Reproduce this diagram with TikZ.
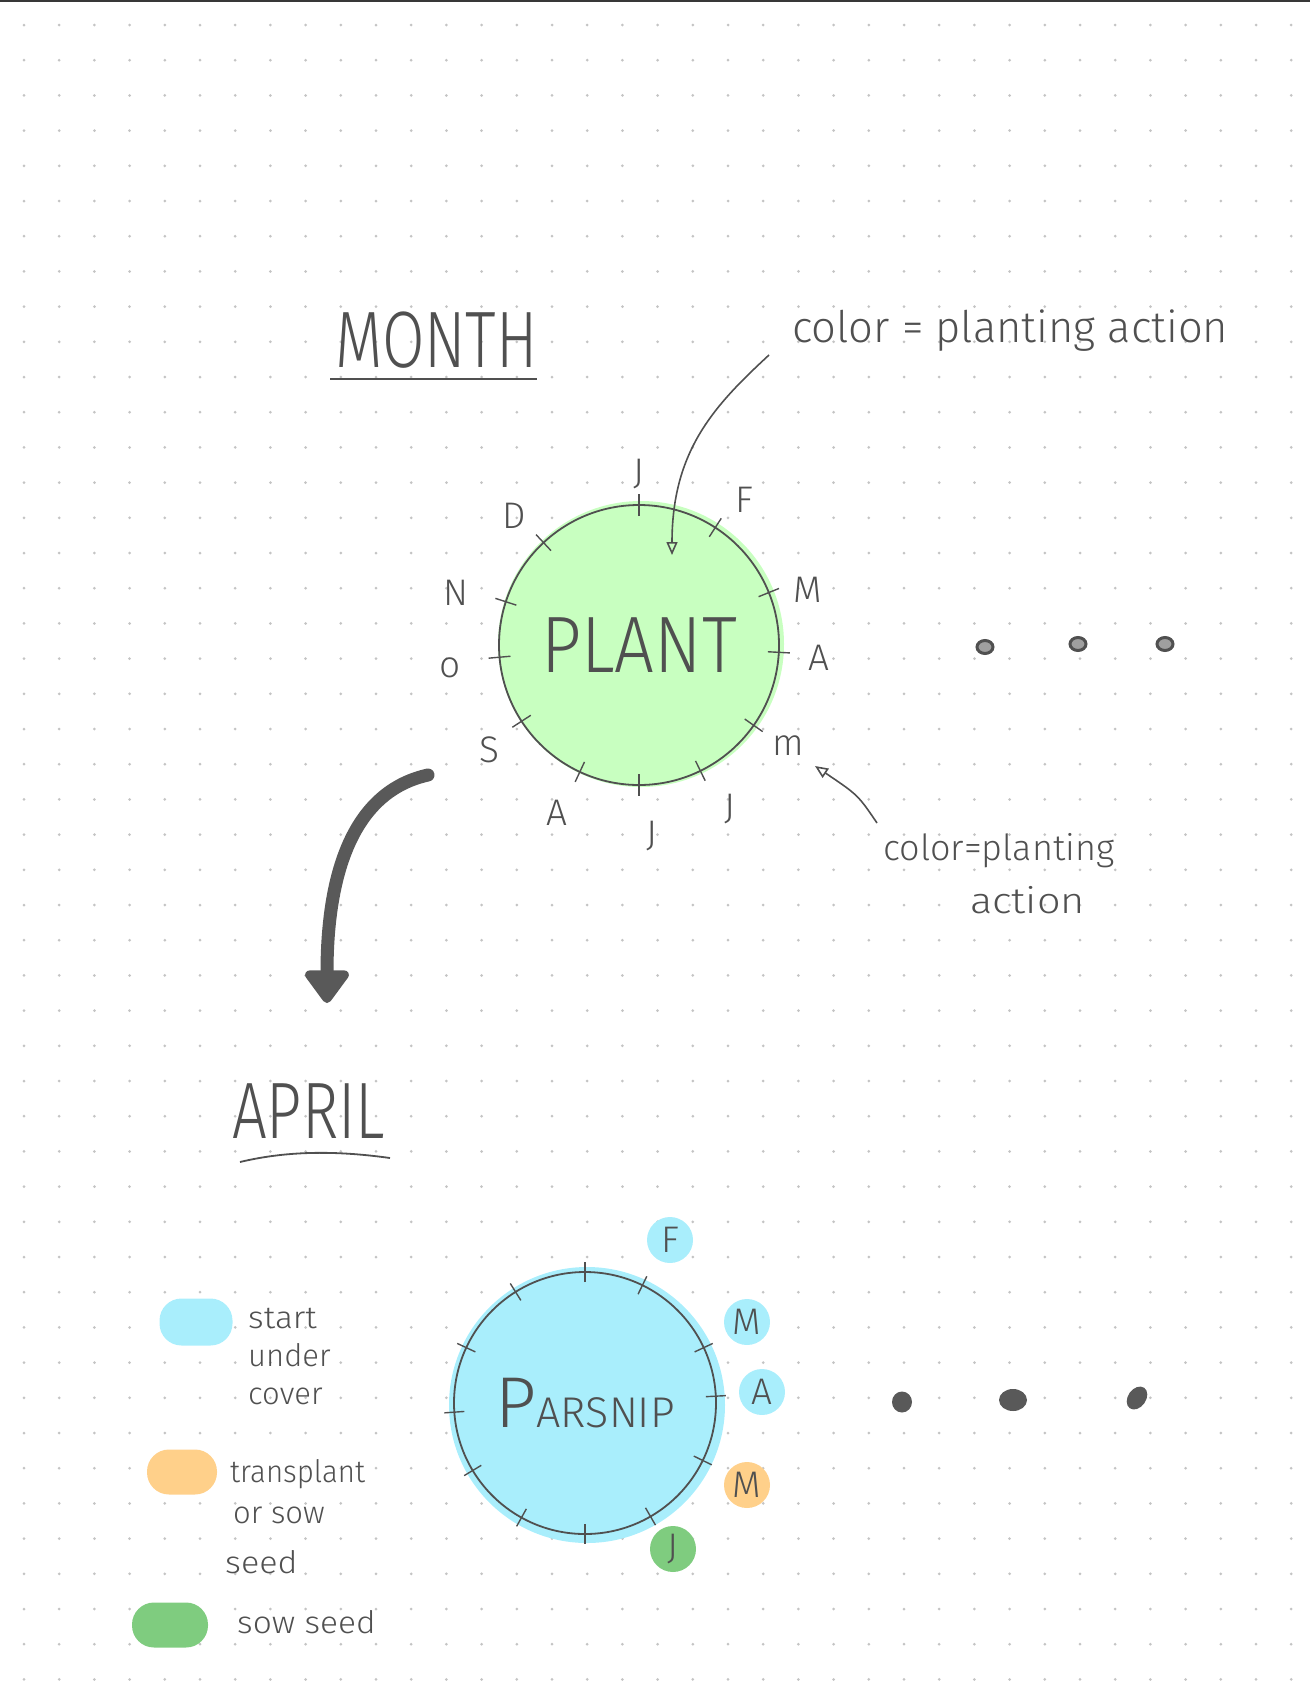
\documentclass[tikz,border=0pt]{standalone}
\usepackage{fontspec}
\setmainfont{Fira Sans Light}
\usetikzlibrary{arrows.meta}
\definecolor{ink}{HTML}{505050}
\definecolor{griddot}{HTML}{C4C4C4}
\definecolor{plantgreen}{HTML}{C8FFC0}
\definecolor{coverblue}{HTML}{A9EEFC}
\definecolor{transorange}{HTML}{FFD08A}
\definecolor{sowgreen}{HTML}{7FCC7F}
\newcommand{\headfont}{\fontsize{80}{80}\selectfont}
\newcommand{\notefont}{\fontsize{43.5}{43.5}\selectfont}
\newcommand{\smallnotefont}{\fontsize{36}{36}\selectfont}
\newcommand{\markfont}{\fontsize{37}{37}\selectfont}
\newcommand{\keyfont}{\fontsize{31}{31}\selectfont}

\tikzset{
  handtext/.style={text=ink, inner sep=0pt, anchor=base west},
  wheel/.style={circle, draw=ink, line width=1.8pt, text=ink, inner sep=0pt},
  monthtick/.style={draw=ink, line width=1.4pt},
  monthlabel/.style={text=ink, inner sep=0pt, font=\markfont},
  monthdot/.style={circle, minimum size=46pt, inner sep=0pt, text=ink, font=\fontsize{37}{37}\selectfont},
  legendblob/.style={rectangle, rounded corners=22pt, inner sep=0pt},
  thinarrow/.style={draw=ink, line width=1.6pt, -{Triangle[open,length=13pt,width=11pt]}},
  bigarrow/.style={draw=ink!95, line width=13pt, line cap=round, -{Triangle[length=36pt,width=50pt,round]}},
}

\begin{document}
\begin{tikzpicture}[x=1pt,y=1pt]
  \useasboundingbox (0,0) rectangle (1310,-1698);

  % Dot grid
  \foreach \i in {0,...,36}
    \foreach \j in {0,...,47}
      \fill[griddot] ({24+35.2*\i},{-25-35.2*\j}) circle (1.5);
  \fill[ink!70!black] (0,0) rectangle (1310,-2);

  % MONTH heading
  \node[handtext, font=\headfont, xscale=0.77] (monthtitle) at (335,-367) {MONTH};
  \draw[ink, line width=1.8pt] (330,-379) -- (537,-379);

  % PLANT wheel
  \fill[plantgreen] (641,-644) circle (143);
  \node[wheel, minimum size=280pt, font=\headfont] (plant) at (639,-645) {\scalebox{0.88}[1]{PLANT}};
  \foreach \tk/\la/\lr/\mon [count=\k] in {90/90/171/J, 57/54/180/F, 22/18/177/M, -3/-4/180/A,
      -35/-34/180/m, -64/-61/187/J, -90/-86/191/J, -115/-116/187/A, -147/-145/183/S,
      185/187/190/o, 162/164/190/N, 133/134/179/D} {
    \draw[monthtick] (plant.center) ++(\tk:129) -- ++(\tk:22);
    \node[monthlabel] (plantmonth\k) at ([shift={(\la:\lr)}]plant.center) {\mon};
  }

  % Note at the top
  \node[handtext, font=\notefont] (notetop) at (792,-342) {color = planting action};
  \coordinate (notetoptail) at (769,-355);
  \coordinate (notetophead) at (672,-555);
  \draw[thinarrow] (notetoptail) .. controls (715,-405) and (672,-450) .. (notetophead);

  % More to come
  \foreach \x/\y in {985/-647, 1078/-644, 1165/-644}
    \draw[ink, line width=3pt, fill=ink!55] (\x,\y) ellipse [x radius=8, y radius=6.5];

  % Note at the side
  \node[handtext, font=\smallnotefont] (notelow) at (883,-860) {color=planting};
  \node[handtext, font=\smallnotefont, xscale=1.15] (notelowb) at (970,-913) {action};
  \coordinate (notelowtail) at (877,-823);
  \coordinate (notelowhead) at (815,-766);
  \draw[thinarrow] (notelowtail) .. controls (858,-795) .. (notelowhead);

  % Big arrow down to the example
  \coordinate (bigtail) at (428,-775);
  \coordinate (bighead) at (327,-1003);
  \draw[bigarrow] (bigtail) .. controls (360,-790) and (327,-860) .. (bighead);

  % APRIL heading
  \node[handtext, font=\headfont, xscale=0.77] (apriltitle) at (232,-1138) {APRIL};
  \draw[ink, line width=1.8pt] (240,-1162) .. controls (290,-1150) and (340,-1151) .. (390,-1158);

  % PARSNIP wheel
  \fill[coverblue] (587,-1405) circle (138);
  \node[wheel, minimum size=262pt] (parsnip) at (585,-1403)
    {{\fontsize{72}{72}\selectfont P}{\fontsize{43}{43}\selectfont ARSNIP}};
  \foreach \tk in {90,64,25,3,-26,-60,-90,-119,-149,184,155,122}
    \draw[monthtick] (parsnip.center) ++(\tk:121) -- ++(\tk:20);

  % Months with an action
  \node[monthdot, fill=coverblue] (parsnipfeb) at (670,-1240) {F};
  \node[monthdot, fill=coverblue] (parsnipmar) at (747,-1322) {M};
  \node[monthdot, fill=coverblue] (parsnipapr) at (762,-1392) {A};
  \node[monthdot, fill=transorange] (parsnipmay) at (747,-1485) {M};
  \node[monthdot, fill=sowgreen] (parsnipjun) at (673,-1549) {J};

  % More to come
  \fill[ink!95] (902,-1402) ellipse [x radius=10, y radius=10.5];
  \fill[ink!95] (1013,-1400) ellipse [x radius=14, y radius=11];
  \fill[ink!95, rotate around={55:(1137,-1398)}] (1137,-1398) ellipse [x radius=12.5, y radius=9];

  % Legend
  \node[legendblob, fill=coverblue, minimum width=73pt, minimum height=47pt] (keycover) at (196,-1322) {};
  \node[handtext, font=\keyfont, xscale=1.08] (keycovera) at (248,-1328) {start};
  \node[handtext, font=\keyfont] (keycoverb) at (248,-1366) {under};
  \node[handtext, font=\keyfont] (keycoverc) at (248,-1404) {cover};

  \node[legendblob, fill=transorange, minimum width=70pt, minimum height=45pt] (keytrans) at (182,-1472) {};
  \node[handtext, font=\keyfont, xscale=0.95] (keytransa) at (230,-1482) {transplant};
  \node[handtext, font=\keyfont] (keytransb) at (233,-1523) {or sow};
  \node[handtext, font=\keyfont, xscale=1.1] (keytransc) at (225,-1573) {seed};

  \node[legendblob, fill=sowgreen, minimum width=76pt, minimum height=45pt] (keysow) at (170,-1625) {};
  \node[handtext, font=\keyfont, xscale=1.08] (keysowa) at (237,-1633) {sow seed};
\end{tikzpicture}
\end{document}
